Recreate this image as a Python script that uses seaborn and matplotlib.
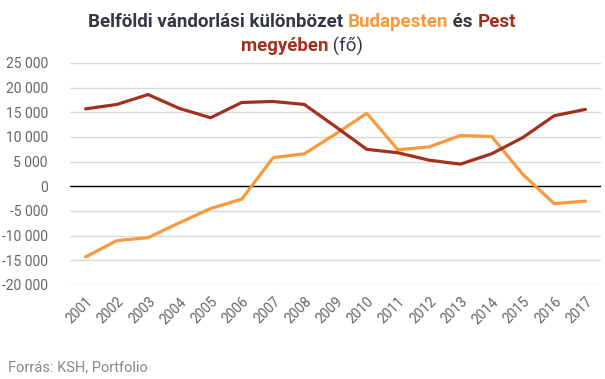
import matplotlib
matplotlib.use("Agg")
import matplotlib.pyplot as plt
import seaborn as sns
import pandas as pd
from matplotlib import font_manager

years = [str(y) for y in range(2001, 2018)]
budapest = [-14300, -11000, -10400, -7400, -4500, -2600, 5800, 6600, 10600,
            14800, 7400, 8000, 10300, 10100, 2400, -3500, -3000]
pest = [15700, 16600, 18600, 15800, 13900, 17000, 17200, 16600, 12100,
        7500, 6800, 5300, 4500, 6600, 9900, 14300, 15600]
yticks = list(range(-20000, 25001, 5000))

sns.set_theme(style="white")
plt.rcParams['font.family'] = ['Roboto', 'DejaVu Sans']

names = sorted({f.name for f in font_manager.fontManager.ttflist})
narrow = 'Liberation Sans Narrow' if 'Liberation Sans Narrow' in names else 'Roboto'

ORANGE = "#F7993D"
RED = "#A3301F"
DARK = "#333A44"

df = pd.DataFrame({"year": years * 2,
                   "value": budapest + pest,
                   "series": ["Budapest"] * len(years) + ["Pest"] * len(years)})

fig = plt.figure(figsize=(6.05, 3.79), dpi=100)
ax = fig.add_axes([70 / 605, 1 - 285 / 379, (601 - 70) / 605, (285 - 63) / 379])
sns.lineplot(data=df, x="year", y="value", hue="series",
             palette={"Budapest": ORANGE, "Pest": RED}, linewidth=2.3,
             legend=False, ax=ax, sort=False)
ax.set_xlim(-0.5, len(years) - 0.5)
ax.set_ylim(-20000, 25000)
ax.set_yticks(yticks)
ax.set_yticklabels([f"{v:,}".replace(",", " ") for v in yticks])
ax.set_xticks(range(len(years)))
ax.set_xticklabels(years, rotation=45, ha="right", rotation_mode="anchor")
for s in ax.spines.values():
    s.set_visible(False)
ax.grid(axis="y", color="#d9d9d9", linewidth=1)
ax.set_axisbelow(True)
ax.axhline(0, color="black", linewidth=1, zorder=1.5)
ax.set_xlabel("")
ax.set_ylabel("")
ax.tick_params(axis="y", labelsize=10, colors="#666666", length=0, pad=16)
ax.tick_params(axis="x", labelsize=10, colors="#666666", length=0, pad=7)

fig.text(8 / 605, 1 - 367 / 379, "Forrás: KSH, Portfolio", fontsize=10.5,
         color="#888888", va="center", ha="left")

# Title composed of coloured pieces
renderer = fig.canvas.get_renderer()
def line(parts, y, size):
    texts = []
    for s, c, w in parts:
        t = fig.text(0, y, s, color=c, fontsize=size, fontweight=w,
                     family=[narrow, 'Roboto', 'DejaVu Sans'], va="center", ha="left")
        texts.append(t)
    widths = [t.get_window_extent(renderer).width for t in texts]
    total = sum(widths)
    x = 302 - total / 2
    for t, w in zip(texts, widths):
        t.set_x(x / 605)
        x += w

line([("Belföldi vándorlási különbözet ", DARK, "bold"),
      ("Budapesten", ORANGE, "bold"),
      (" és ", DARK, "bold"),
      ("Pest", RED, "bold")], 1 - 22 / 379, 13.5)
line([("megyében", RED, "bold"),
      (" (fő)", DARK, "normal")], 1 - 46 / 379, 13.5)

fig.savefig("out.png", dpi=100)
